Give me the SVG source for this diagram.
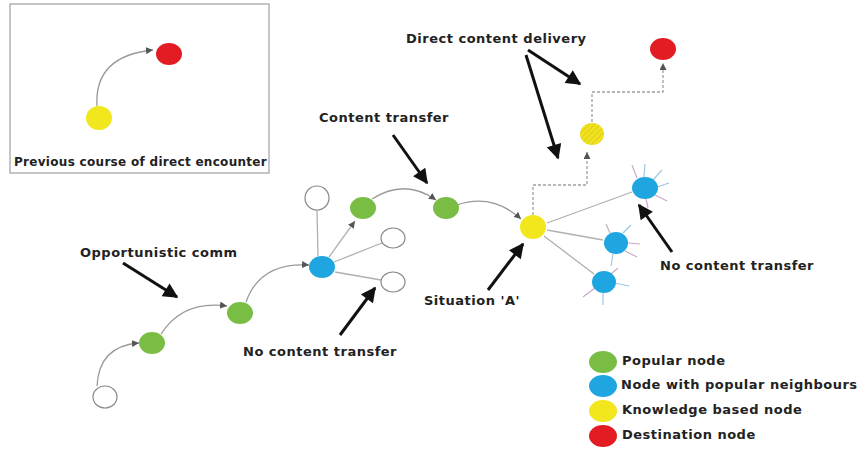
<svg xmlns="http://www.w3.org/2000/svg" width="863" height="450" viewBox="0 0 863 450">
  <style>
    .lbl { font-family: "DejaVu Sans", "Liberation Sans", sans-serif; font-weight: bold; font-size: 13px; letter-spacing: 0.5px; fill: #222; }
    .small { font-size: 12px; letter-spacing: 0.3px; }
    .green { fill: #79bd45; }
    .blue { fill: #1fa6e0; }
    .yellow { fill: #f2e71c; }
    .red { fill: #e31b23; }
    .empty { fill: #fff; stroke: #888; stroke-width: 1.2; }
    .flow { fill: none; stroke: #9a9a9a; stroke-width: 1.3; }
    .link { fill: none; stroke: #b0b0b0; stroke-width: 1.3; }
    .dash { fill: none; stroke: #a0a0a0; stroke-width: 1.3; stroke-dasharray: 3 2; }
    .spoke { stroke: #c9aac9; stroke-width: 1.2; }
    .spoke2 { stroke: #9cc8e6; stroke-width: 1.2; }
    .callout { stroke: #111; stroke-width: 3; fill: none; }
  </style>
  <defs>
    <marker id="tri" viewBox="0 0 10 10" refX="10" refY="5" markerWidth="7" markerHeight="7" markerUnits="userSpaceOnUse" orient="auto">
      <path d="M0,0 L10,5 L0,10 z" fill="#555"/>
    </marker>
    <marker id="bigArrow" viewBox="0 0 10 10" refX="9" refY="5" markerWidth="5.5" markerHeight="5" orient="auto">
      <path d="M0,0 L10,5 L0,10 z" fill="#111"/>
    </marker>
    <pattern id="hatch" width="4" height="4" patternUnits="userSpaceOnUse" patternTransform="rotate(45)">
      <rect width="4" height="4" fill="#f0e21c"/>
      <line x1="0" y1="0" x2="0" y2="4" stroke="#d4c018" stroke-width="1.2"/>
    </pattern>
  </defs>

  <rect width="863" height="450" fill="#fff"/>

  <!-- inset: earlier direct encounter -->
  <g id="inset">
    <rect x="10" y="4" width="259" height="169" fill="#fff" stroke="#a0a0a0" stroke-width="1.2"/>
    <path class="flow" d="M97 106 Q94 56 153 50" marker-end="url(#tri)"/>
    <ellipse class="red" cx="169" cy="54" rx="13" ry="11"/>
    <ellipse class="yellow" cx="99" cy="118" rx="13" ry="12"/>
    <text class="lbl small" x="14" y="166">Previous course of direct encounter</text>
  </g>

  <!-- connectors -->
  <g id="connectors">
    <path class="flow" d="M97 386 Q99 346 139 343" marker-end="url(#tri)"/>
    <path class="flow" d="M161 334 Q183 300 227 306" marker-end="url(#tri)"/>
    <path class="flow" d="M246 302 Q260 262 309 265" marker-end="url(#tri)"/>
    <path class="flow" d="M372 199 Q405 178 436 200" marker-end="url(#tri)"/>
    <path class="flow" d="M457 205 Q492 193 521 219" marker-end="url(#tri)"/>
    <path class="link" d="M329 257 L355 221" marker-end="url(#tri)"/>
    <path class="link" d="M318 256 L317 210"/>
    <path class="link" d="M334 262 L382 243"/>
    <path class="link" d="M335 272 L381 280"/>
    <path class="link" d="M547 223 L632 192"/>
    <path class="link" d="M547 230 L603 240"/>
    <path class="link" d="M544 236 L594 274"/>
    <path class="dash" d="M533 215 V185 H587 V152" marker-end="url(#tri)"/>
    <path class="dash" d="M592 122 V92 H663 V63" marker-end="url(#tri)"/>
  </g>

  <!-- spokes around blue nodes -->
  <g id="spokes">
    <line class="spoke" x1="637" y1="178" x2="632" y2="165"/>
    <line class="spoke2" x1="644" y1="177" x2="645" y2="164"/>
    <line class="spoke2" x1="653" y1="180" x2="662" y2="170"/>
    <line class="spoke2" x1="657" y1="187" x2="669" y2="183"/>
    <line class="spoke" x1="655" y1="195" x2="667" y2="201"/>
    <line class="spoke" x1="646" y1="199" x2="648" y2="208"/>
    <line class="spoke" x1="610" y1="233" x2="606" y2="224"/>
    <line class="spoke2" x1="623" y1="233" x2="631" y2="225"/>
    <line class="spoke" x1="628" y1="243" x2="640" y2="244"/>
    <line class="spoke" x1="625" y1="251" x2="637" y2="257"/>
    <line class="spoke2" x1="613" y1="254" x2="611" y2="266"/>
    <line class="spoke2" x1="614" y1="283" x2="629" y2="286"/>
    <line class="spoke" x1="595" y1="288" x2="583" y2="297"/>
    <line class="spoke2" x1="603" y1="293" x2="603" y2="305"/>
    <line class="spoke" x1="611" y1="274" x2="618" y2="268"/>
  </g>

  <!-- nodes -->
  <g id="n-start"><ellipse class="empty" cx="105" cy="397" rx="12" ry="11"/></g>
  <g id="n-pop1"><ellipse class="green" cx="152" cy="343" rx="13" ry="11"/></g>
  <g id="n-pop2"><ellipse class="green" cx="240" cy="313" rx="13" ry="11"/></g>
  <g id="n-hub"><ellipse class="blue" cx="322" cy="267" rx="13" ry="11"/></g>
  <g id="n-side1"><ellipse class="empty" cx="317" cy="198" rx="12" ry="12"/></g>
  <g id="n-side2"><ellipse class="empty" cx="393" cy="238" rx="12" ry="10"/></g>
  <g id="n-side3"><ellipse class="empty" cx="393" cy="282" rx="12" ry="10"/></g>
  <g id="n-pop3"><ellipse class="green" cx="363" cy="208" rx="13" ry="11"/></g>
  <g id="n-pop4"><ellipse class="green" cx="446" cy="208" rx="13" ry="11"/></g>
  <g id="n-a"><ellipse class="yellow" cx="533" cy="227" rx="13" ry="12"/></g>
  <g id="n-know"><ellipse fill="url(#hatch)" cx="592" cy="134" rx="12" ry="11"/></g>
  <g id="n-dest"><ellipse class="red" cx="663" cy="49" rx="13" ry="11"/></g>
  <g id="n-blue1"><ellipse class="blue" cx="645" cy="188" rx="13" ry="11"/></g>
  <g id="n-blue2"><ellipse class="blue" cx="616" cy="243" rx="12" ry="11"/></g>
  <g id="n-blue3"><ellipse class="blue" cx="604" cy="282" rx="12" ry="11"/></g>

  <!-- call-outs -->
  <g id="callouts">
    <line class="callout" x1="123" y1="263" x2="177" y2="297" marker-end="url(#bigArrow)"/>
    <line class="callout" x1="393" y1="135" x2="427" y2="183" marker-end="url(#bigArrow)"/>
    <line class="callout" x1="528" y1="50" x2="580" y2="84" marker-end="url(#bigArrow)"/>
    <line class="callout" x1="526" y1="55" x2="558" y2="158" marker-end="url(#bigArrow)"/>
    <line class="callout" x1="488" y1="290" x2="523" y2="244" marker-end="url(#bigArrow)"/>
    <line class="callout" x1="340" y1="335" x2="375" y2="288" marker-end="url(#bigArrow)"/>
    <line class="callout" x1="672" y1="252" x2="639" y2="205" marker-end="url(#bigArrow)"/>
  </g>

  <!-- labels -->
  <g id="labels">
    <text class="lbl" x="406" y="43">Direct content delivery</text>
    <text class="lbl" x="319" y="122">Content transfer</text>
    <text class="lbl" x="80" y="257">Opportunistic comm</text>
    <text class="lbl" x="243" y="356">No content transfer</text>
    <text class="lbl" x="424" y="305">Situation 'A'</text>
    <text class="lbl" x="660" y="270">No content transfer</text>
  </g>

  <!-- legend -->
  <g id="legend">
    <ellipse class="green" cx="603" cy="362" rx="14" ry="11"/>
    <ellipse class="blue" cx="603" cy="386" rx="14" ry="11"/>
    <ellipse class="yellow" cx="603" cy="411" rx="14" ry="11"/>
    <ellipse class="red" cx="603" cy="436" rx="14" ry="11"/>
    <text class="lbl" x="622" y="365">Popular node</text>
    <text class="lbl" x="621" y="389">Node with popular neighbours</text>
    <text class="lbl" x="622" y="414">Knowledge based node</text>
    <text class="lbl" x="622" y="439">Destination node</text>
  </g>
</svg>
